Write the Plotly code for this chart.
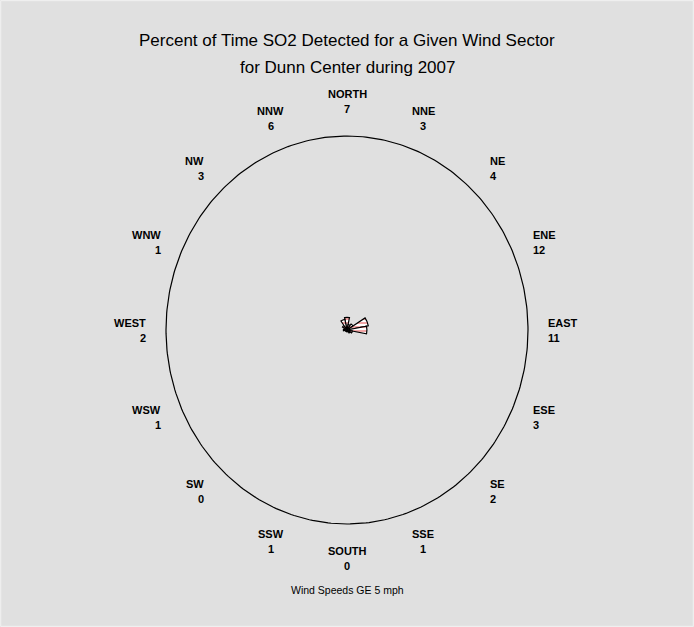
import numpy as np
import plotly.graph_objects as go

# sectors, clockwise from north
sectors = ["NORTH", "NNE", "NE", "ENE", "EAST", "ESE", "SE", "SSE",
           "SOUTH", "SSW", "SW", "WSW", "WEST", "WNW", "NW", "NNW"]
pct_so2 = [7, 3, 4, 12, 11, 3, 2, 1, 0, 1, 0, 1, 2, 1, 3, 6]
directions = [i * 22.5 for i in range(16)]

title_1 = "Percent of Time SO2 Detected for a Given Wind Sector"
title_2 = "for Dunn Center during 2007"
footnote = "Wind Speeds GE 5 mph"

W, H = 694, 627
cx, cy = 347, 330          # centre of the rose, px
rx, ry = 181, 194          # ring radius, px (SAS stretches it a little)
label_rx, label_ry = 1.1, 1.18

label_font = dict(family="Liberation Sans, Arial, sans-serif", size=11, color="black")

fig = go.Figure()

# 100% ring
t = np.linspace(0, 2 * np.pi, 361)
fig.add_trace(go.Scatter(x=np.sin(t), y=np.cos(t), mode="lines",
                         line=dict(color="black", width=1.2),
                         hoverinfo="skip", showlegend=False))

# the rose itself (radial scale 0-100 % = ring)
fig.add_trace(go.Barpolar(
    r=pct_so2, theta=directions, width=[22.5] * 16,
    marker=dict(color="white", line=dict(color="black", width=1.2),
                pattern=dict(shape="-", fgcolor="#e02020", bgcolor="white", size=4, solidity=0.4)),
    showlegend=False, hoverinfo="skip",
))

# sector labels: name on top, value below (15 px apart)
for name, val, d in zip(sectors, pct_so2, directions):
    a = np.radians(d)
    s, c = np.sin(a), np.cos(a)
    if abs(s) < 0.5:
        xa = "center"
    elif s > 0:
        xa = "left"
    else:
        xa = "right"
    for txt, shift in ((name, 7.5), (str(val), -7.5)):
        fig.add_annotation(x=label_rx * s, y=label_ry * c, xref="x", yref="y",
                           text=f"<b>{txt}</b>", showarrow=False, yshift=shift,
                           xanchor=xa, yanchor="middle", align=xa, font=label_font)

title_font = dict(family="Liberation Sans, Arial, sans-serif", size=17, color="black")
fig.add_annotation(x=0.5, y=1 - 41 / H, xref="paper", yref="paper", text=title_1,
                   showarrow=False, xanchor="center", yanchor="middle", font=title_font)
fig.add_annotation(x=0.5, y=1 - 67 / H, xref="paper", yref="paper", text=title_2,
                   showarrow=False, xanchor="center", yanchor="middle", font=title_font)
fig.add_annotation(x=0.5, y=1 - 590 / H, xref="paper", yref="paper", text=footnote,
                   showarrow=False, xanchor="center", yanchor="middle",
                   font=dict(family="Liberation Sans, Arial, sans-serif", size=10.5, color="black"))

fig.update_layout(
    width=W, height=H,
    margin=dict(l=0, r=0, t=0, b=0),
    paper_bgcolor="#e0e0e0",
    plot_bgcolor="#e0e0e0",
    showlegend=False,
    xaxis=dict(range=[-cx / rx, (W - cx) / rx], visible=False, fixedrange=True),
    yaxis=dict(range=[-(H - cy) / ry, cy / ry], visible=False, fixedrange=True),
    polar=dict(
        domain=dict(x=[(cx - rx) / W, (cx + rx) / W],
                    y=[(H - cy - rx) / H, (H - cy + rx) / H]),
        bgcolor="rgba(0,0,0,0)",
        radialaxis=dict(range=[0, 100], visible=False),
        angularaxis=dict(visible=False, direction="clockwise", rotation=90),
    ),
    shapes=[dict(type="rect", xref="paper", yref="paper", x0=0.001, x1=0.999, y0=0.001, y1=0.999,
                 line=dict(color="#f2f2f2", width=1))],
)

fig.write_html(
    "out.html",
    config={"displayModeBar": False},
    post_script="document.body.style.margin='0';document.body.style.background='#e0e0e0';",
)
